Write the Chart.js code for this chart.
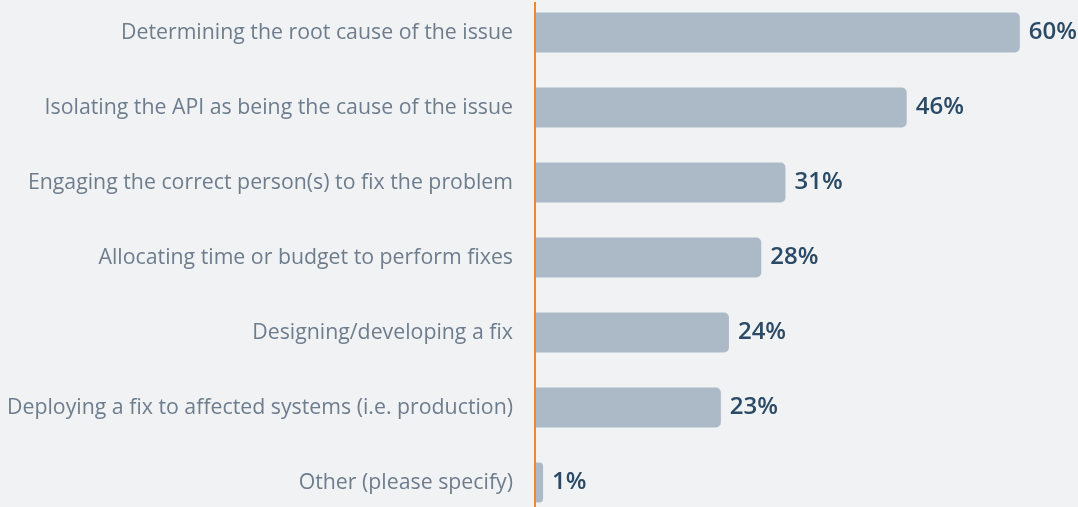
<!DOCTYPE html>
<html>
<head>
<meta charset="utf-8">
<script src="https://cdn.jsdelivr.net/npm/chart.js@4"></script>
<style>
  html, body { margin: 0; padding: 0; background: #f0f2f4; overflow: hidden; width: 1078px; height: 507px; }
  #c { position: absolute; left: 0; top: -5px; }
</style>
</head>
<body>
<canvas id="c" width="1078" height="525"></canvas>
<script>
const categories = [
  "Determining the root cause of the issue",
  "Isolating the API as being the cause of the issue",
  "Engaging the correct person(s) to fix the problem",
  "Allocating time or budget to perform fixes",
  "Designing/developing a fix",
  "Deploying a fix to affected systems (i.e. production)",
  "Other (please specify)"
];
const values = [60, 46, 31, 28, 24, 23, 1];

const valueLabels = {
  id: 'valueLabels',
  afterDatasetsDraw(chart) {
    const ctx = chart.ctx;
    const meta = chart.getDatasetMeta(0);
    ctx.save();
    ctx.font = '600 24px "Open Sans"';
    ctx.fillStyle = '#2a4a66';
    ctx.textAlign = 'left';
    ctx.textBaseline = 'middle';
    meta.data.forEach((bar, i) => {
      ctx.fillText(values[i] + '%', bar.x + 9, bar.y);
    });
    // orange axis line
    const x0 = chart.scales.x.getPixelForValue(0);
    ctx.strokeStyle = '#f5842a';
    ctx.lineWidth = 2;
    ctx.beginPath();
    ctx.moveTo(x0, 7);
    ctx.lineTo(x0, chart.height);
    ctx.stroke();
    ctx.restore();
  }
};

new Chart(document.getElementById('c'), {
  type: 'bar',
  data: {
    labels: categories,
    datasets: [{
      data: values,
      backgroundColor: '#acb9c7',
      borderRadius: 5,
      borderSkipped: 'start',
      categoryPercentage: 1,
      barPercentage: 0.533
    }]
  },
  options: {
    indexAxis: 'y',
    responsive: false,
    maintainAspectRatio: false,
    animation: false,
    layout: { padding: 0 },
    plugins: { legend: { display: false }, tooltip: { enabled: false } },
    scales: {
      x: {
        display: false,
        min: 0,
        max: 67.2
      },
      y: {
        grid: { display: false, drawTicks: false },
        border: { display: false },
        afterFit(scale) {
          scale.width = 535;
          scale.paddingTop = 0;
          scale.paddingBottom = 0;
        },
        ticks: {
          padding: 22,
          color: '#6e7d8d',
          font: { family: '"Open Sans"', size: 21.3 }
        }
      }
    }
  },
  plugins: [valueLabels]
});
</script>
</body>
</html>
